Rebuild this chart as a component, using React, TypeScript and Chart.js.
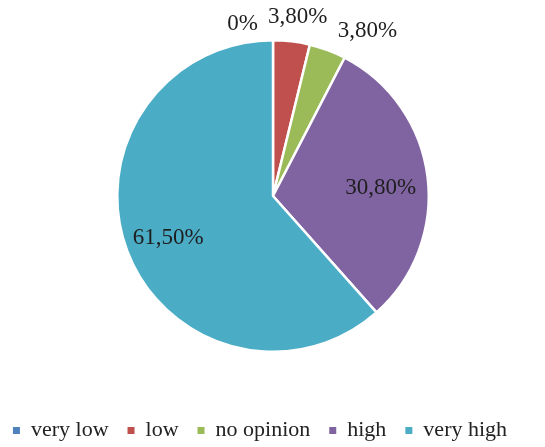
import React, { useEffect, useRef } from "react";
import { Chart, registerables } from "chart.js";

Chart.register(...registerables);

const categories = ["very low", "low", "no opinion", "high", "very high"];
const shares = [0, 3.8, 3.8, 30.8, 61.5];
const valueLabels = ["0%", "3,80%", "3,80%", "30,80%", "61,50%"];
const sliceColors = ["#4F81BD", "#C0504D", "#9BBB59", "#8064A2", "#4BACC6"];

const SERIF = '"Liberation Serif", "Times New Roman", serif';

// radial factor + nudge for each value label
const labelPlacement = [
  { f: 1.17, dx: -30.5, dy: 10.5 },
  { f: 1.17, dx: 3, dy: 2 },
  { f: 1.17, dx: 30.5, dy: 5.5 },
  { f: 0.69, dx: 1, dy: 5 },
  { f: 0.72, dx: 0, dy: 2 },
];

const LEGEND_SHIFT = -13;

const sliceLabelsPlugin = {
  id: "sliceLabels",
  afterDatasetsDraw(chart: any) {
    const meta = chart.getDatasetMeta(0);
    const ctx = chart.ctx;
    ctx.save();
    ctx.font = `23px ${SERIF}`;
    ctx.fillStyle = "#1e1e1e";
    ctx.textAlign = "center";
    ctx.textBaseline = "middle";
    meta.data.forEach((arc: any, i: number) => {
      const { x, y, startAngle, endAngle, outerRadius } = arc.getProps(
        ["x", "y", "startAngle", "endAngle", "outerRadius"],
        true
      );
      const mid = (startAngle + endAngle) / 2;
      const p = labelPlacement[i];
      const r = outerRadius * p.f;
      ctx.fillText(valueLabels[i], x + Math.cos(mid) * r + p.dx, y + Math.sin(mid) * r + p.dy);
    });
    ctx.restore();
  },
};

const legendShiftPlugin = {
  id: "legendShift",
  afterLayout(chart: any) {
    if (chart.legend) {
      chart.legend.left += LEGEND_SHIFT;
      chart.legend.right += LEGEND_SHIFT;
    }
  },
};

export default function App() {
  const canvasRef = useRef<HTMLCanvasElement | null>(null);

  useEffect(() => {
    if (!canvasRef.current) return;
    const chart = new Chart(canvasRef.current, {
      type: "pie",
      data: {
        labels: categories,
        datasets: [
          {
            data: shares,
            backgroundColor: sliceColors,
            borderColor: "#ffffff",
            borderWidth: 2.5,
          },
        ],
      },
      options: {
        animation: false,
        responsive: true,
        maintainAspectRatio: false,
        layout: { padding: { top: 39, left: 1, right: 0, bottom: -4.5 } },
        plugins: {
          tooltip: { enabled: false },
          legend: {
            position: "bottom",
            title: {
              display: true,
              text: "",
              font: { size: 10, lineHeight: 1 },
              padding: { top: 37.5, bottom: 0 },
            },
            labels: {
              boxWidth: 7,
              boxHeight: 7,
              padding: 19,
              color: "#222222",
              font: { family: SERIF, size: 22 },
              generateLabels: () =>
                categories.map((c, i) => ({
                  text: c,
                  fillStyle: sliceColors[i],
                  strokeStyle: sliceColors[i],
                  lineWidth: 0,
                  hidden: false,
                  index: i,
                  fontColor: "#222222",
                })),
            },
          },
        },
      },
      plugins: [sliceLabelsPlugin, legendShiftPlugin],
    });
    return () => chart.destroy();
  }, []);

  return (
    <div style={{ position: "relative", width: 545, height: 447, margin: "-8px 0 0 -8px" }}>
      <canvas ref={canvasRef} />
    </div>
  );
}
